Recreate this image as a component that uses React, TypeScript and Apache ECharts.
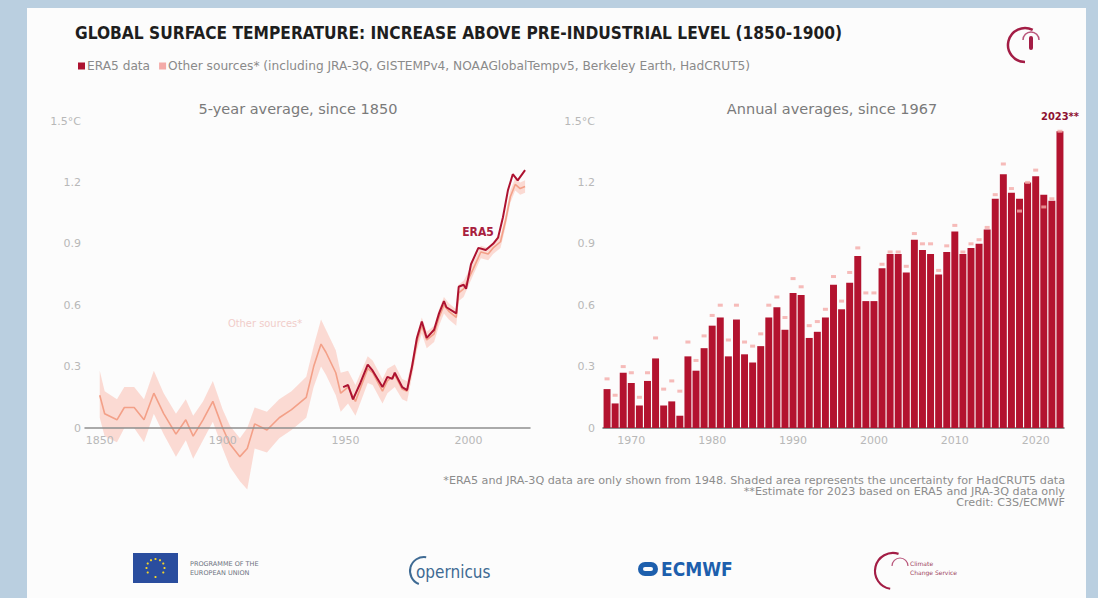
import React, { useEffect, useRef } from "react";
import * as echarts from "echarts";

// ---------- DATA ----------
// Left panel: 5-year averages (year, °C above 1850-1900)
const ERA5_5YR: [number, number][] = [
  [1949, 0.2], [1951, 0.21], [1953, 0.14], [1956, 0.22], [1959, 0.31], [1961, 0.28], [1965, 0.2],
  [1967, 0.25], [1969, 0.24], [1970, 0.27], [1973, 0.2], [1975, 0.185], [1977, 0.3],
  [1979, 0.44], [1981, 0.52], [1983, 0.44], [1986, 0.48], [1988, 0.56], [1990, 0.62],
  [1991, 0.59], [1995, 0.56], [1996, 0.69], [1998, 0.7], [1999, 0.68], [2001, 0.8],
  [2004, 0.88], [2007, 0.87], [2010, 0.9], [2012, 0.93], [2014, 1.03], [2016, 1.16],
  [2018, 1.24], [2020, 1.21], [2023, 1.26],
];

const OTHER_YEARS: number[] = [
  1850, 1852, 1857, 1860, 1864, 1868, 1872, 1876, 1881, 1885, 1888, 1892, 1896, 1900,
  1903, 1907, 1910, 1913, 1918, 1923, 1928, 1934, 1937, 1940, 1942, 1946, 1948, 1951,
  1954, 1959, 1961, 1965, 1967, 1970, 1973, 1975, 1977, 1979, 1981, 1983, 1986, 1988,
  1990, 1992, 1995, 1996, 1998, 2002, 2005, 2008, 2010, 2013, 2015, 2017, 2019, 2021, 2023,
];
const OTHER_5YR: number[] = [
  0.16, 0.07, 0.04, 0.1, 0.1, 0.04, 0.17, 0.07, -0.03, 0.04, -0.04, 0.04, 0.13, 0.0,
  -0.08, -0.14, -0.1, 0.02, -0.01, 0.05, 0.09, 0.15, 0.3, 0.41, 0.37, 0.27, 0.17, 0.2,
  0.13, 0.29, 0.27, 0.18, 0.23, 0.26, 0.19, 0.18, 0.29, 0.42, 0.5, 0.43, 0.46, 0.54,
  0.6, 0.57, 0.54, 0.66, 0.68, 0.78, 0.86, 0.85, 0.88, 0.91, 1.01, 1.13, 1.19, 1.17, 1.18,
];
const BAND_LOW: number[] = [
  0.05, -0.04, -0.07, 0.0, 0.0, -0.07, 0.07, -0.03, -0.14, -0.06, -0.15, -0.06, 0.03, -0.1,
  -0.19, -0.26, -0.3, -0.1, -0.12, -0.05, -0.01, 0.05, 0.2, 0.3, 0.26, 0.16, 0.08, 0.12,
  0.06, 0.22, 0.21, 0.12, 0.17, 0.2, 0.14, 0.13, 0.25, 0.38, 0.46, 0.39, 0.42, 0.5,
  0.56, 0.53, 0.5, 0.62, 0.64, 0.75, 0.83, 0.82, 0.85, 0.88, 0.98, 1.1, 1.16, 1.14, 1.15,
];
const BAND_HIGH: number[] = [
  0.28, 0.18, 0.14, 0.2, 0.2, 0.14, 0.28, 0.17, 0.07, 0.14, 0.06, 0.13, 0.23, 0.09,
  0.01, -0.05, 0.0, 0.1, 0.08, 0.14, 0.18, 0.25, 0.4, 0.53, 0.48, 0.38, 0.27, 0.28,
  0.21, 0.35, 0.33, 0.24, 0.29, 0.31, 0.24, 0.23, 0.33, 0.46, 0.54, 0.47, 0.5, 0.58,
  0.64, 0.61, 0.58, 0.7, 0.72, 0.81, 0.89, 0.88, 0.91, 0.94, 1.04, 1.16, 1.22, 1.2, 1.21,
];

// Right panel: annual averages
const YEARS: string[] = [
  "1967", "1968", "1969", "1970", "1971", "1972", "1973", "1974", "1975", "1976",
  "1977", "1978", "1979", "1980", "1981", "1982", "1983", "1984", "1985", "1986",
  "1987", "1988", "1989", "1990", "1991", "1992", "1993", "1994", "1995", "1996",
  "1997", "1998", "1999", "2000", "2001", "2002", "2003", "2004", "2005", "2006",
  "2007", "2008", "2009", "2010", "2011", "2012", "2013", "2014", "2015", "2016",
  "2017", "2018", "2019", "2020", "2021", "2022", "2023",
];
const ERA5_ANNUAL: number[] = [
  0.19, 0.12, 0.27, 0.22, 0.11, 0.23, 0.34, 0.11, 0.13, 0.06,
  0.35, 0.28, 0.39, 0.5, 0.54, 0.35, 0.53, 0.36, 0.32, 0.4,
  0.54, 0.59, 0.48, 0.66, 0.65, 0.44, 0.47, 0.54, 0.7, 0.58,
  0.71, 0.84, 0.62, 0.62, 0.78, 0.85, 0.85, 0.76, 0.92, 0.87,
  0.85, 0.75, 0.86, 0.96, 0.85, 0.88, 0.9, 0.97, 1.12, 1.24,
  1.15, 1.12, 1.2, 1.23, 1.14, 1.11, 1.45,
];
const OTHER_ANNUAL: number[] = [
  0.24, 0.16, 0.3, 0.27, 0.15, 0.27, 0.44, 0.19, 0.23, 0.18,
  0.42, 0.33, 0.45, 0.55, 0.6, 0.43, 0.6, 0.42, 0.4, 0.46,
  0.6, 0.64, 0.54, 0.73, 0.69, 0.5, 0.52, 0.58, 0.74, 0.62,
  0.76, 0.88, 0.66, 0.66, 0.8, 0.86, 0.86, 0.79, 0.95, 0.9,
  0.9, 0.77, 0.89, 0.99, 0.86, 0.9, 0.92, 0.98, 1.14, 1.29,
  1.17, 1.06, 1.2, 1.26, 1.08, 1.12, 1.45,
];

const LEFT_X_LABELS: number[] = [1850, 1900, 1950, 2000];

const TITLE = "GLOBAL SURFACE TEMPERATURE: INCREASE ABOVE PRE-INDUSTRIAL LEVEL (1850-1900)";
const ERA5_NAME = "ERA5 data";
const OTHER_NAME =
  "Other sources* (including JRA-3Q, GISTEMPv4, NOAAGlobalTempv5, Berkeley Earth, HadCRUT5)";
const FOOTNOTES = [
  "*ERA5 and JRA-3Q data are only shown from 1948. Shaded area represents the uncertainty for HadCRUT5 data",
  "**Estimate for 2023 based on ERA5 and JRA-3Q data only",
  "Credit: C3S/ECMWF",
];

// ---------- STYLE ----------
const COND = '"DejaVu Sans Condensed", "Liberation Sans Narrow", "Roboto", sans-serif';
const SANS = '"DejaVu Sans", "Noto Sans", sans-serif';
const DARK_RED = "#ad1230";
const BAR_RED = "#b3132f";
const PINK = "#f4aaa8";
const ORANGE = "#f3a088";
const BAND = "#fbd6ce";
const LABEL_GRAY = "#b8b8b8";

function yFmt(v: number) {
  const r = Math.round(v * 10) / 10;
  if (r < 0) return "";
  if (r === 0) return "0";
  if (r === 1.5) return "1.5°C";
  return r.toFixed(1);
}

export default function App() {
  const ref = useRef<HTMLDivElement>(null);

  useEffect(() => {
    if (!ref.current) return;
    const chart = echarts.init(ref.current, undefined, { renderer: "svg" });

    const otherLine = OTHER_5YR.map((v, i) => [OTHER_YEARS[i], v]);
    const bandData = OTHER_YEARS.map((y, i) => [y, BAND_LOW[i], BAND_HIGH[i]]);

    const euStars: any[] = [];
    for (let k = 0; k < 12; k++) {
      const a = (k / 12) * Math.PI * 2;
      euStars.push({
        type: "circle",
        shape: { cx: 155.5 + Math.cos(a) * 9, cy: 568 + Math.sin(a) * 9, r: 1.1 },
        style: { fill: "#f3d22a" },
      });
    }

    const option: any = {
      animation: false,
      backgroundColor: "#bacfe0",
      legend: {
        left: 73,
        top: 55,
        icon: "rect",
        itemWidth: 7,
        itemHeight: 7,
        itemGap: 9,
        selectedMode: false,
        textStyle: { fontSize: 12.2, color: "#8a8a8a", fontFamily: SANS, padding: [0, 0, 0, -3] },
        data: [ERA5_NAME, OTHER_NAME],
      },
      grid: [
        { left: 85, top: 121, width: 445, height: 307 },
        { left: 603, top: 121, width: 461, height: 307 },
      ],
      xAxis: [
        {
          type: "value",
          gridIndex: 0,
          min: 1844,
          max: 2025,
          splitLine: { show: false },
          axisTick: { show: false },
          axisLine: { show: true, lineStyle: { color: "#8f8f8f", width: 1.5 } },
          axisLabel: {
            customValues: LEFT_X_LABELS,
            color: LABEL_GRAY,
            fontSize: 11,
            fontFamily: SANS,
            margin: 7,
            formatter: (v: number) => String(v),
          },
          z: 10,
        },
        {
          type: "category",
          gridIndex: 1,
          data: YEARS,
          axisTick: { show: false },
          axisLine: { show: true, lineStyle: { color: "#6a6a6a", width: 1.5 } },
          axisLabel: {
            interval: (_i: number, v: string) => Number(v) % 10 === 0,
            color: LABEL_GRAY,
            fontSize: 11,
            fontFamily: SANS,
            margin: 7,
          },
        },
      ],
      yAxis: [
        {
          type: "value",
          gridIndex: 0,
          min: 0,
          max: 1.5,
          interval: 0.3,
          splitLine: { show: false },
          axisLine: { show: false },
          axisTick: { show: false },
          axisLabel: { color: LABEL_GRAY, fontSize: 11, fontFamily: SANS, margin: 4, formatter: yFmt },
        },
        {
          type: "value",
          gridIndex: 1,
          min: 0,
          max: 1.5,
          interval: 0.3,
          splitLine: { show: false },
          axisLine: { show: false },
          axisTick: { show: false },
          axisLabel: { color: LABEL_GRAY, fontSize: 11, fontFamily: SANS, margin: 8, formatter: yFmt },
        },
      ],
      series: [
        {
          name: "HadCRUT5 uncertainty",
          type: "custom",
          xAxisIndex: 0,
          yAxisIndex: 0,
          clip: false,
          silent: true,
          data: bandData,
          encode: { x: 0, y: [1, 2] },
          renderItem: (params: any, api: any) => {
            if (params.dataIndex !== 0) return null;
            const top = bandData.map((d) => api.coord([d[0], d[2]]));
            const bot = bandData.map((d) => api.coord([d[0], d[1]])).reverse();
            return {
              type: "polygon",
              shape: { points: top.concat(bot), smooth: 0 },
              style: { fill: BAND, opacity: 0.9 },
            };
          },
          z: 1,
        },
        {
          name: OTHER_NAME,
          type: "line",
          xAxisIndex: 0,
          yAxisIndex: 0,
          data: otherLine,
          clip: false,
          symbol: "none",
          color: PINK,
          lineStyle: { color: ORANGE, width: 1.6 },
          z: 3,
        },
        {
          name: ERA5_NAME,
          type: "line",
          xAxisIndex: 0,
          yAxisIndex: 0,
          data: ERA5_5YR,
          clip: false,
          symbol: "none",
          color: DARK_RED,
          lineStyle: { color: DARK_RED, width: 2 },
          z: 5,
        },
        {
          name: ERA5_NAME,
          type: "bar",
          xAxisIndex: 1,
          yAxisIndex: 1,
          barCategoryGap: "14%",
          itemStyle: { color: BAR_RED },
          data: ERA5_ANNUAL.map((v, i) =>
            i === ERA5_ANNUAL.length - 1
              ? {
                  value: v,
                  label: {
                    show: true,
                    position: "top",
                    distance: 9,
                    formatter: "2023**",
                    color: "#8e1030",
                    fontWeight: "bold",
                    fontSize: 11,
                    fontFamily: COND,
                  },
                }
              : v
          ),
          z: 2,
        },
        {
          name: OTHER_NAME,
          type: "scatter",
          xAxisIndex: 1,
          yAxisIndex: 1,
          data: OTHER_ANNUAL,
          symbol: "rect",
          symbolSize: [5, 3],
          itemStyle: { color: PINK },
          z: 4,
        },
      ],
      graphic: [
        {
          type: "rect",
          z: -10,
          shape: { x: 27, y: 8, width: 1059, height: 600 },
          style: { fill: "#fcfcfc" },
          silent: true,
        },
        {
          type: "text",
          x: 75,
          y: 33,
          style: {
            text: TITLE,
            fill: "#1e1e1e",
            font: `bold 17.2px ${COND}`,
            verticalAlign: "middle",
          },
        },
        {
          type: "text",
          x: 298,
          y: 109,
          style: {
            text: "5-year average, since 1850",
            fill: "#7a7a7a",
            font: `14.5px ${SANS}`,
            align: "center",
            verticalAlign: "middle",
          },
        },
        {
          type: "text",
          x: 832,
          y: 109,
          style: {
            text: "Annual averages, since 1967",
            fill: "#7a7a7a",
            font: `14.5px ${SANS}`,
            align: "center",
            verticalAlign: "middle",
          },
        },
        {
          type: "text",
          x: 478,
          y: 232,
          style: {
            text: "ERA5",
            fill: "#a8203e",
            font: `bold 12px ${COND}`,
            align: "center",
            verticalAlign: "middle",
          },
        },
        {
          type: "text",
          x: 265,
          y: 323,
          style: {
            text: "Other sources*",
            fill: "#f1cdca",
            font: `11px ${COND}`,
            align: "center",
            verticalAlign: "middle",
          },
        },
        ...FOOTNOTES.map((t, i) => ({
          type: "text",
          x: 1065,
          y: 480 + i * 11,
          style: {
            text: t,
            fill: "#8c8c8c",
            font: `11.2px ${SANS}`,
            align: "right",
            verticalAlign: "middle",
          },
        })),
        // EU logo
        {
          type: "rect",
          shape: { x: 133, y: 553, width: 45, height: 30 },
          style: { fill: "#2a4d9e" },
        },
        ...euStars,
        {
          type: "text",
          x: 190,
          y: 568,
          style: {
            text: "PROGRAMME OF THE\nEUROPEAN UNION",
            fill: "#6c7280",
            font: `6.5px ${SANS}`,
            verticalAlign: "middle",
            lineHeight: 9,
          },
        },
        // Copernicus
        {
          type: "arc",
          shape: { cx: 424, cy: 571, r: 14, startAngle: Math.PI * 0.62, endAngle: Math.PI * 1.55 },
          style: { stroke: "#3e6a93", lineWidth: 2, fill: "none" },
        },
        {
          type: "text",
          x: 416,
          y: 572,
          style: {
            text: "opernicus",
            fill: "#3e6a93",
            font: `17px ${COND}`,
            verticalAlign: "middle",
          },
        },
        // ECMWF
        {
          type: "rect",
          shape: { x: 638, y: 562, width: 20, height: 14, r: 7 },
          style: { fill: "#1d5fad" },
        },
        {
          type: "rect",
          shape: { x: 643, y: 567, width: 10, height: 4, r: 2 },
          style: { fill: "#fcfcfc" },
        },
        {
          type: "text",
          x: 661,
          y: 569,
          style: {
            text: "ECMWF",
            fill: "#1d5fad",
            font: `bold 19px ${COND}`,
            verticalAlign: "middle",
          },
        },
        // Climate Change Service (bottom)
        {
          type: "arc",
          shape: { cx: 893, cy: 571, r: 18, startAngle: Math.PI * 0.55, endAngle: Math.PI * 1.6 },
          style: { stroke: "#a31d45", lineWidth: 2.2, fill: "none" },
        },
        {
          type: "arc",
          shape: { cx: 900, cy: 566, r: 8, startAngle: Math.PI * 1.0, endAngle: Math.PI * 2.0 },
          style: { stroke: "#b8557a", lineWidth: 1.2, fill: "none" },
        },
        {
          type: "text",
          x: 910,
          y: 568,
          style: {
            text: "Climate\nChange Service",
            fill: "#a0455f",
            font: `6px ${SANS}`,
            verticalAlign: "middle",
            lineHeight: 9,
          },
        },
        // Top-right logo
        {
          type: "arc",
          shape: { cx: 1025, cy: 45, r: 17, startAngle: Math.PI * 0.5, endAngle: Math.PI * 1.65 },
          style: { stroke: "#a31d45", lineWidth: 2.5, fill: "none" },
        },
        {
          type: "arc",
          shape: { cx: 1031, cy: 40, r: 8, startAngle: Math.PI * 1.0, endAngle: Math.PI * 2.0 },
          style: { stroke: "#b8557a", lineWidth: 1.5, fill: "none" },
        },
        {
          type: "rect",
          shape: { x: 1029, y: 36, width: 4, height: 14, r: 2 },
          style: { fill: "#a31d45" },
        },
      ],
    };

    chart.setOption(option);
    return () => chart.dispose();
  }, []);

  return (
    <div
      ref={ref}
      style={{ position: "absolute", left: 0, top: 0, width: 1098, height: 598 }}
    />
  );
}
